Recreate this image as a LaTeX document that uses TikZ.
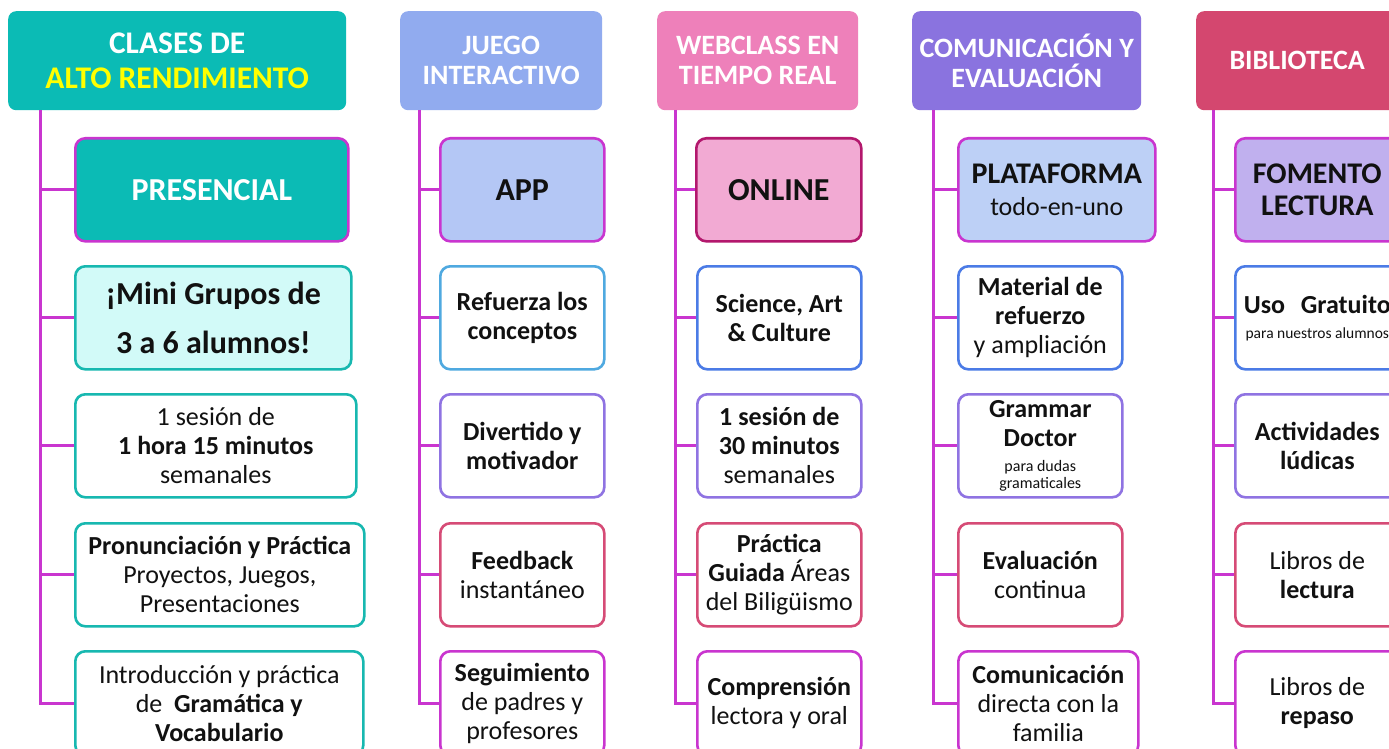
\documentclass[tikz,border=0pt]{standalone}
\usepackage{fontspec}
\setmainfont{Carlito}
\definecolor{mag}{HTML}{C935CF}
\definecolor{tealH}{HTML}{0BBBB5}
\definecolor{tealB}{HTML}{17B8B0}
\definecolor{tealL}{HTML}{D2FAF8}
\definecolor{juegoH}{HTML}{91ABEF}
\definecolor{appF}{HTML}{B4C7F5}
\definecolor{webH}{HTML}{EE80BA}
\definecolor{onlF}{HTML}{F2AAD3}
\definecolor{onlB}{HTML}{B3186D}
\definecolor{comH}{HTML}{8A73DF}
\definecolor{plaF}{HTML}{BDD0F6}
\definecolor{bibH}{HTML}{D4476F}
\definecolor{fomF}{HTML}{C0B0EE}
\definecolor{skyB}{HTML}{4FA9E0}
\definecolor{royB}{HTML}{4B7BE6}
\definecolor{purB}{HTML}{8F73E2}
\definecolor{redB}{HTML}{D64B76}
\definecolor{yel}{HTML}{FFFF00}
\definecolor{ink}{HTML}{111111}
\tikzset{
  hdr/.style={rounded corners=8pt, text=white, align=center, inner sep=0pt, anchor=north west, minimum height=99pt, font=\fontsize{28}{30}\selectfont\bfseries},
  hdrA/.style={hdr, font=\fontsize{31.5}{35}\selectfont\bfseries},
  ibox/.style={draw, line width=2.6pt, rounded corners=10pt, fill=white, align=center, inner sep=0pt, anchor=north west, minimum height=103pt, text=ink, font=\fontsize{26}{29}\selectfont},
  topbox/.style={ibox, font=\fontsize{32}{35}\selectfont\bfseries},
  trunk/.style={draw=mag, line width=3pt},
  branch/.style={draw=mag, line width=3pt},
}
\begin{document}
\begin{tikzpicture}[x=1pt,y=-1pt]
\useasboundingbox[fill=white] (0,0) rectangle (1389,749);
% ---------- headers
\node[hdrA, fill=tealH, minimum width=338pt] (h1) at (8,11) {CLASES DE\\\textcolor{yel}{ALTO RENDIMIENTO}};
\node[hdr, fill=juegoH, minimum width=202pt] (h2) at (400,11) {JUEGO\\INTERACTIVO};
\node[hdr, fill=webH, minimum width=201pt] (h3) at (657,11) {WEBCLASS EN\\TIEMPO REAL};
\node[hdr, fill=comH, minimum width=229pt] (h4) at (912,11) {COMUNICACIÓN Y\\EVALUACIÓN};
\node[hdr, fill=bibH, minimum width=202pt] (h5) at (1196,11) {BIBLIOTECA};
% ---------- column 1
\node[topbox, draw=mag, fill=tealH, text=white, minimum width=273pt] (a0) at (74,137) {PRESENCIAL};
\node[ibox, draw=tealB, fill=tealL, minimum width=276pt, font=\fontsize{32}{49}\selectfont\bfseries] (a1) at (74,265) {¡Mini Grupos de\\3 a 6 alumnos!};
\node[ibox, draw=tealB, minimum width=281pt] (a2) at (74,393) {1 sesión de\\\textbf{1 hora 15 minutos}\\semanales};
\node[ibox, draw=tealB, minimum width=289pt] (a3) at (74,522) {\textbf{Pronunciación y Práctica}\\Proyectos, Juegos,\\Presentaciones};
\node[ibox, draw=tealB, minimum width=288pt, minimum height=104pt] (a4) at (74,650) {Introducción y práctica\\de\hspace{0.45em}\textbf{Gramática y}\\\textbf{Vocabulario}};
% ---------- column 2
\node[topbox, draw=mag, fill=appF, minimum width=164pt] (b0) at (439,137) {APP};
\node[ibox, draw=skyB, minimum width=164pt] (b1) at (439,265) {\textbf{Refuerza los}\\\textbf{conceptos}};
\node[ibox, draw=purB, minimum width=164pt] (b2) at (439,393) {\textbf{Divertido y}\\\textbf{motivador}};
\node[ibox, draw=redB, minimum width=164pt] (b3) at (439,522) {\textbf{Feedback}\\instantáneo};
\node[ibox, draw=mag, minimum width=164pt, minimum height=104pt] (b4) at (439,650) {\textbf{Seguimiento}\\de padres y\\profesores};
% ---------- column 3
\node[topbox, draw=onlB, fill=onlF, minimum width=165pt] (c0) at (695,137) {ONLINE};
\node[ibox, draw=royB, minimum width=164pt] (c1) at (696,265) {\textbf{Science, Art}\\\textbf{\& Culture}};
\node[ibox, draw=purB, minimum width=164pt] (c2) at (696,393) {\textbf{1 sesión de}\\\textbf{30 minutos}\\semanales};
\node[ibox, draw=redB, minimum width=164pt] (c3) at (696,522) {\textbf{Práctica}\\\textbf{Guiada} Áreas\\del Biligüismo};
\node[ibox, draw=mag, minimum width=164pt, minimum height=104pt] (c4) at (696,650) {\textbf{Comprensión}\\lectora y oral};
% ---------- column 4
\node[ibox, draw=mag, fill=plaF, minimum width=197pt, font=\fontsize{26}{32}\selectfont] (d0) at (957,137) {{\fontsize{30}{32}\selectfont\bfseries PLATAFORMA}\\todo-en-uno};
\node[ibox, draw=royB, minimum width=164pt] (d1) at (957,265) {\textbf{Material de}\\\textbf{refuerzo}\\y ampliación};
\node[ibox, draw=purB, minimum width=164pt] (d2) at (957,393) {\textbf{Grammar}\\\textbf{Doctor}\\[-4pt]{\fontsize{16}{17}\selectfont para dudas}\\[-12pt]{\fontsize{16}{17}\selectfont gramaticales}};
\node[ibox, draw=redB, minimum width=164pt] (d3) at (957,522) {\textbf{Evaluación}\\continua};
\node[ibox, draw=mag, minimum width=180pt, minimum height=104pt] (d4) at (957,650) {\textbf{Comunicación}\\directa con la\\familia};
% ---------- column 5
\node[ibox, draw=mag, fill=fomF, minimum width=164pt, font=\fontsize{30}{32}\selectfont\bfseries] (e0) at (1234,137) {FOMENTO\\LECTURA};
\node[ibox, draw=royB, minimum width=164pt] (e1) at (1234,265) {\textbf{Uso\hspace{0.6em}Gratuito}\\[-4pt]{\fontsize{15.5}{17}\selectfont para nuestros alumnos}};
\node[ibox, draw=purB, minimum width=164pt] (e2) at (1234,393) {\textbf{Actividades}\\\textbf{lúdicas}};
\node[ibox, draw=redB, minimum width=164pt] (e3) at (1234,522) {Libros de\\\textbf{lectura}};
\node[ibox, draw=mag, minimum width=164pt, minimum height=104pt] (e4) at (1234,650) {Libros de\\\textbf{repaso}};
% ---------- trunks and branches
\coordinate (t1) at (40,110);
\coordinate (t2) at (419,110);
\coordinate (t3) at (675,110);
\coordinate (t4) at (933,110);
\coordinate (t5) at (1213,110);
\foreach \t/\c in {t1/a, t2/b, t3/c, t4/d, t5/e}{
  \draw[trunk] (\t) |- (\c4.west);
  \foreach \r in {0,1,2,3}{
    \draw[branch] (\t |- \c\r.west) -- (\c\r.west);
  }
}
\end{tikzpicture}
\end{document}
